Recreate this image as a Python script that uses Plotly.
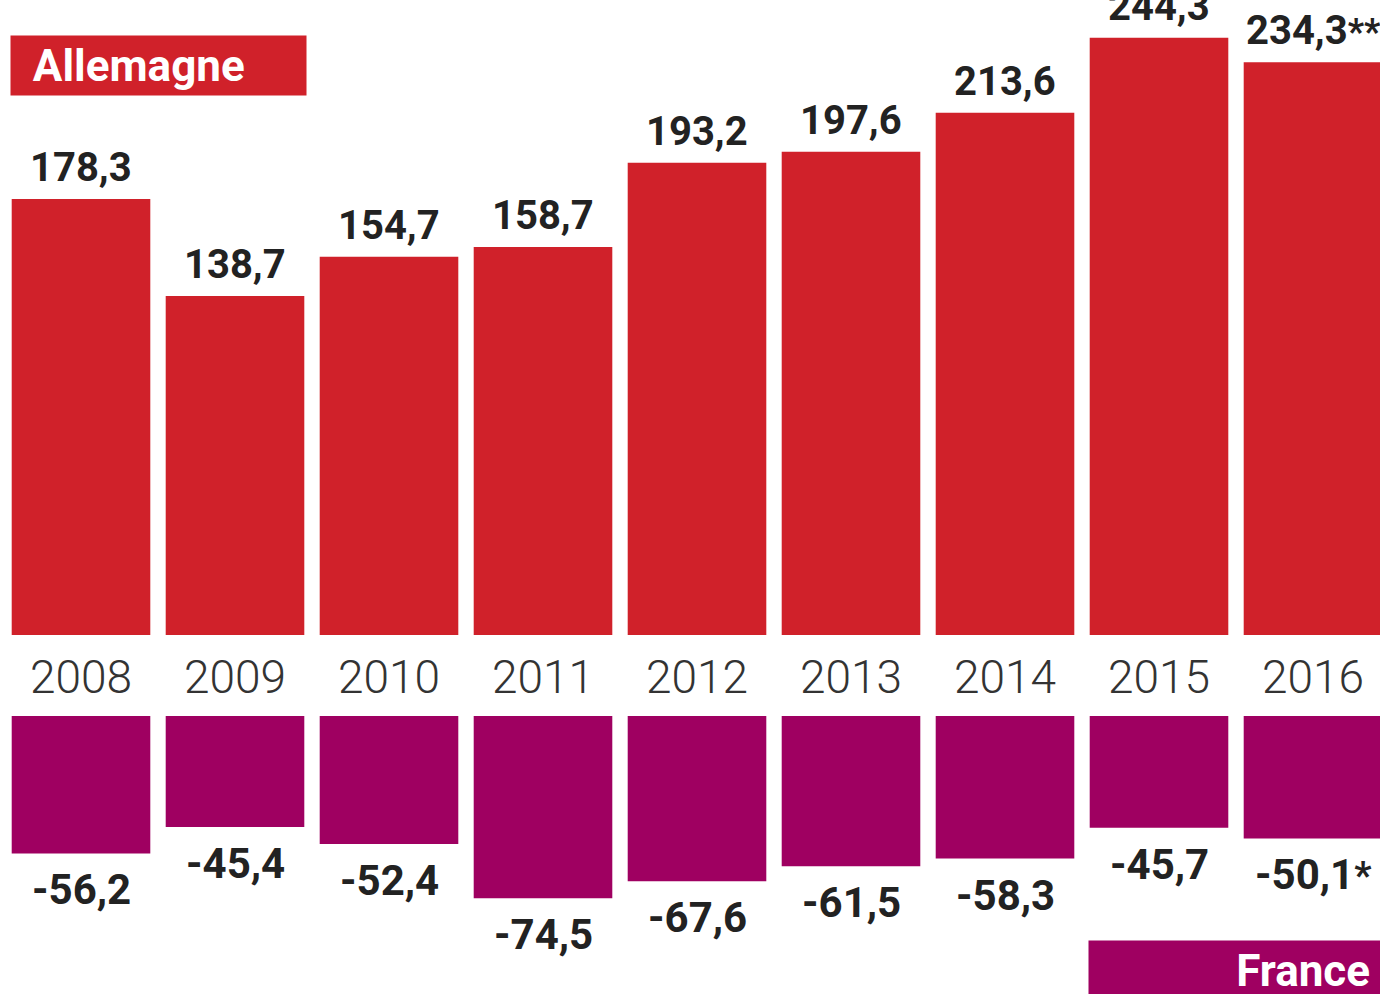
import plotly.graph_objects as go

years = ["2008", "2009", "2010", "2011", "2012", "2013", "2014", "2015", "2016"]
allemagne = [178.3, 138.7, 154.7, 158.7, 193.2, 197.6, 213.6, 244.3, 234.3]
france = [-56.2, -45.4, -52.4, -74.5, -67.6, -61.5, -58.3, -45.7, -50.1]
label_de = ["178,3", "138,7", "154,7", "158,7", "193,2", "197,6", "213,6", "244,3",
            "234,3<span style='font-size:36px'>**</span>"]
label_fr = ["-56,2", "-45,4", "-52,4", "-74,5", "-67,6", "-61,5", "-58,3", "-45,7",
            "-50,1<span style='font-size:38px'>*</span>"]

RED = "#d0212a"
PURPLE = "#9f0061"
W, H = 1380, 994
FONT = "Roboto"

xs = list(range(len(years)))

fig = go.Figure()
fig.add_trace(go.Bar(x=xs, y=allemagne, marker=dict(color=RED, line=dict(width=0)),
                     width=0.9, xaxis="x", yaxis="y", hoverinfo="skip"))
fig.add_trace(go.Bar(x=xs, y=france, marker=dict(color=PURPLE, line=dict(width=0)),
                     width=0.9, xaxis="x2", yaxis="y2", hoverinfo="skip"))

pitch = 154.0
x0 = -81.0 / pitch
x1 = x0 + W / pitch
pxu = 2.445
top_base = 635
bot_base = 716

ann = []
for i, (v, t) in enumerate(zip(allemagne, label_de)):
    ann.append(dict(x=i, y=v, xref="x", yref="y", text=t, showarrow=False,
                    yanchor="bottom", yshift=6,
                    font=dict(family=FONT, size=40, color="#222222", weight=700)))
for i, (v, t) in enumerate(zip(france, label_fr)):
    ann.append(dict(x=i, y=v, xref="x2", yref="y2", text=t, showarrow=False,
                    yanchor="top", yshift=-10,
                    font=dict(family=FONT, size=42, color="#222222", weight=700)))
for i, yr in enumerate(years):
    ann.append(dict(x=i, y=1 - 677 / H, xref="x", yref="paper", text=yr, showarrow=False,
                    yanchor="middle",
                    font=dict(family=FONT, size=46, color="#333333", weight=300)))

ann.append(dict(x=10 / W, y=1 - 35 / H, xref="paper", yref="paper",
                text="&nbsp;&nbsp;Allemagne", showarrow=False, xanchor="left", yanchor="top",
                width=295, height=59, align="left", valign="middle", bgcolor=RED, borderpad=0,
                font=dict(family=FONT, size=44, color="white", weight=700)))
ann.append(dict(x=1088 / W, y=1 - 940 / H, xref="paper", yref="paper",
                text="France&nbsp;", showarrow=False, xanchor="left", yanchor="top",
                width=292, height=60, align="right", valign="middle", bgcolor=PURPLE, borderpad=0,
                font=dict(family=FONT, size=44, color="white", weight=700)))

fig.update_layout(
    width=W, height=H, margin=dict(l=0, r=0, t=0, b=0),
    paper_bgcolor="white", plot_bgcolor="white", showlegend=False,
    xaxis=dict(domain=[0, 1], range=[x0, x1], visible=False, anchor="y"),
    xaxis2=dict(domain=[0, 1], range=[x0, x1], visible=False, anchor="y2"),
    yaxis=dict(domain=[1 - top_base / H, 1], range=[0, top_base / pxu], visible=False),
    yaxis2=dict(domain=[0, 1 - bot_base / H], range=[-(H - bot_base) / pxu, 0], visible=False),
    annotations=ann,
)

fig.write_html("out.html", config={"displayModeBar": False},
               post_script="document.body.style.margin='0';document.body.style.overflow='hidden';")
